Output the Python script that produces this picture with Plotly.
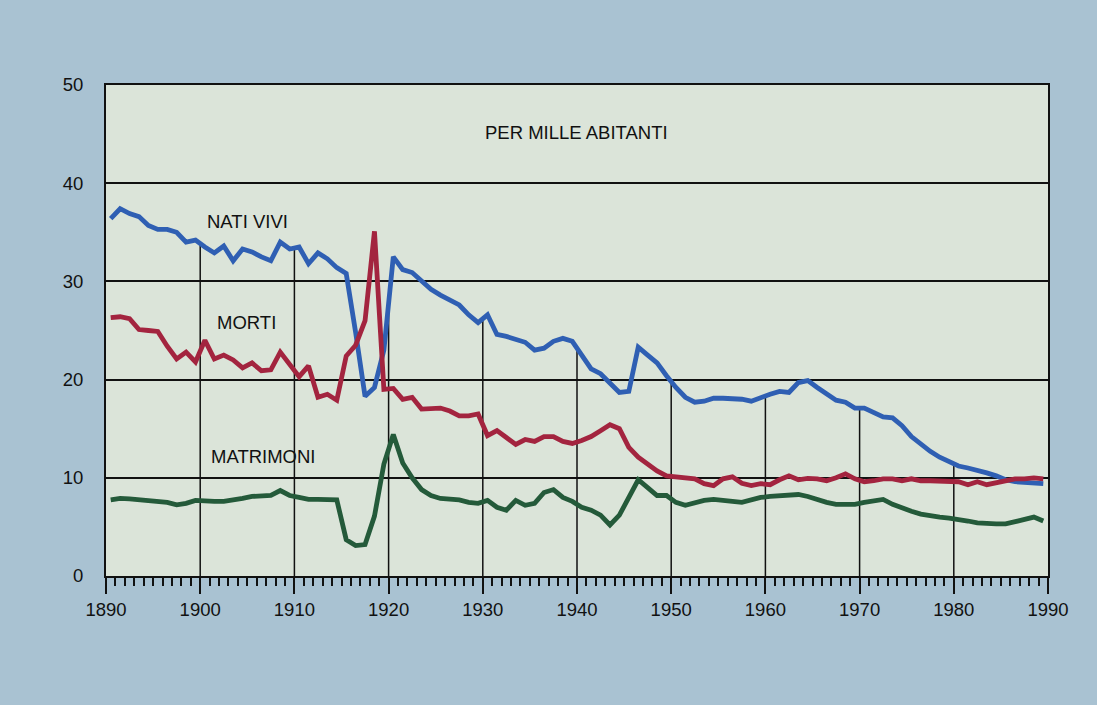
import plotly.graph_objects as go

# tassi per mille abitanti, Italia 1890-1989
years = list(range(1890, 1990))

nati_vivi = [
    36.4, 37.4, 36.9, 36.6, 35.7, 35.3, 35.3, 35.0, 34.0, 34.2,
    33.5, 32.9, 33.6, 32.1, 33.3, 33.0, 32.5, 32.1, 34.0, 33.3,
    33.5, 31.8, 32.9, 32.3, 31.4, 30.8, 24.8, 18.3, 19.2, 23.0,
    32.5, 31.2, 30.9, 30.0, 29.2, 28.6, 28.1, 27.6, 26.6, 25.8,
    26.6, 24.6, 24.4, 24.1, 23.8, 23.0, 23.2, 23.9, 24.2, 23.9,
    22.4, 21.1, 20.6, 19.7, 18.7, 18.8, 23.3, 22.5, 21.7, 20.4,
    19.2, 18.2, 17.7, 17.8, 18.1, 18.1, 18.1, 18.0, 17.8, 18.2,
    18.5, 18.8, 18.7, 19.7, 19.9, 19.2, 18.5, 17.9, 17.7, 17.1,
    17.1, 16.6, 16.2, 16.1, 15.3, 14.2, 13.4, 12.7, 12.1, 11.6,
    11.2, 11.0, 10.8, 10.5, 10.2, 9.8, 9.6, 9.5, 9.5, 9.4,
]

morti = [
    26.3, 26.4, 26.2, 25.1, 25.0, 24.9, 23.4, 22.1, 22.8, 21.8,
    24.0, 22.1, 22.5, 22.0, 21.2, 21.7, 20.9, 21.0, 22.8, 21.6,
    20.3, 21.4, 18.2, 18.5, 17.9, 22.4, 23.5, 26.0, 35.1, 19.0,
    19.1, 18.0, 18.2, 17.0, 17.0, 17.1, 16.8, 16.3, 16.3, 16.5,
    14.3, 14.8, 14.1, 13.4, 13.9, 13.7, 14.2, 14.2, 13.7, 13.5,
    13.8, 14.2, 14.8, 15.4, 15.0, 13.1, 12.1, 11.4, 10.7, 10.2,
    10.1, 10.1, 9.9, 9.4, 9.2, 9.9, 10.1, 9.45, 9.2, 9.4,
    9.3, 9.8, 10.2, 9.8, 9.95, 9.9, 9.7, 10.0, 10.4, 9.9,
    9.6, 9.7, 9.9, 9.9, 9.7, 9.9, 9.7, 9.7, 9.7, 9.6,
    9.6, 9.3, 9.6, 9.3, 9.5, 9.7, 9.9, 9.9, 10.0, 9.9,
]

matrimoni = [
    7.75, 7.9, 7.85, 7.75, 7.6, 7.5, 7.5, 7.25, 7.4, 7.7,
    7.6, 7.6, 7.6, 7.7, 7.9, 8.1, 8.2, 8.2, 8.7, 8.2,
    8.0, 7.8, 7.8, 7.8, 7.75, 3.7, 3.1, 3.2, 6.1, 11.4,
    14.4, 11.5, 10.0, 8.8, 8.2, 7.9, 7.8, 7.75, 7.5, 7.4,
    7.7, 7.0, 6.7, 7.7, 7.2, 7.4, 8.5, 8.8, 8.0, 7.6,
    7.0, 6.7, 6.2, 5.2, 6.2, 8.0, 9.8, 9.0, 8.2, 8.2,
    7.5, 7.2, 7.5, 7.7, 7.8, 7.75, 7.6, 7.5, 7.75, 8.0,
    8.1, 8.2, 8.3, 8.3, 8.1, 7.75, 7.5, 7.3, 7.3, 7.3,
    7.5, 7.65, 7.8, 7.3, 6.9, 6.6, 6.3, 6.1, 6.0, 5.9,
    5.8, 5.6, 5.4, 5.3, 5.3, 5.3, 5.5, 5.8, 6.0, 5.6,
]

decenni = list(range(1890, 2000, 10))

FONT = "Arial, Liberation Sans, sans-serif"
INK = "#111111"

# i valori sono annuali: il punto cade a metà dell'anno
x_mid = [y + 0.5 for y in years]

# le linee verticali della griglia salgono solo fino alla curva dei nati vivi
gx, gy = [], []
for d in decenni[1:-1]:
    i = d - years[0]
    top = (nati_vivi[i - 1] + nati_vivi[i]) / 2
    gx += [d, d, None]
    gy += [0, top, None]

fig = go.Figure()
fig.add_trace(go.Scatter(x=gx, y=gy, mode="lines",
                         line=dict(color=INK, width=1.5), hoverinfo="skip"))

series = [
    ("NATI VIVI", nati_vivi, "#2f5fb3"),
    ("MORTI", morti, "#a3243f"),
    ("MATRIMONI", matrimoni, "#245a3a"),
]
for name, vals, col in series:
    fig.add_trace(go.Scatter(x=x_mid, y=vals, mode="lines", name=name,
                             line=dict(color=col, width=4.8)))

labels = [
    ("PER MILLE ABITANTI", 1939.9, 45.2, "center"),
    ("NATI VIVI", 1900.5, 36.1, "left"),
    ("MORTI", 1901.6, 25.8, "left"),
    ("MATRIMONI", 1900.9, 12.2, "left"),
]
for txt, ax, ay, anchor in labels:
    fig.add_annotation(x=ax, y=ay, text=txt, showarrow=False, xanchor=anchor,
                       yanchor="middle", font=dict(family=FONT, size=18.5, color=INK))

fig.update_layout(
    width=1097,
    height=705,
    showlegend=False,
    paper_bgcolor="#a9c2d2",
    plot_bgcolor="#dbe4d9",
    margin=dict(l=106, r=49, t=85, b=129),
    font=dict(family=FONT, size=18.5, color=INK),
)
fig.update_xaxes(
    range=[1890, 1990],
    tickvals=decenni,
    ticks="outside", ticklen=16, tickwidth=2, tickcolor=INK,
    minor=dict(dtick=1, tick0=1890, ticks="outside", ticklen=8,
               tickwidth=1.5, tickcolor=INK, showgrid=False),
    showgrid=False, zeroline=False,
    showline=True, linecolor=INK, linewidth=2, mirror=True,
    tickfont=dict(family=FONT, size=18.5, color=INK),
)
fig.update_yaxes(
    range=[0, 50], dtick=10,
    showgrid=True, gridcolor=INK, gridwidth=1.5,
    zeroline=False, ticks="", ticklabelstandoff=17,
    showline=True, linecolor=INK, linewidth=2, mirror=True,
    tickfont=dict(family=FONT, size=18.5, color=INK),
)

# niente margine della pagina: la figura parte dall'angolo in alto a sinistra
fig.write_html("out.html", config={"displayModeBar": False},
               post_script="document.body.style.margin='0';")
